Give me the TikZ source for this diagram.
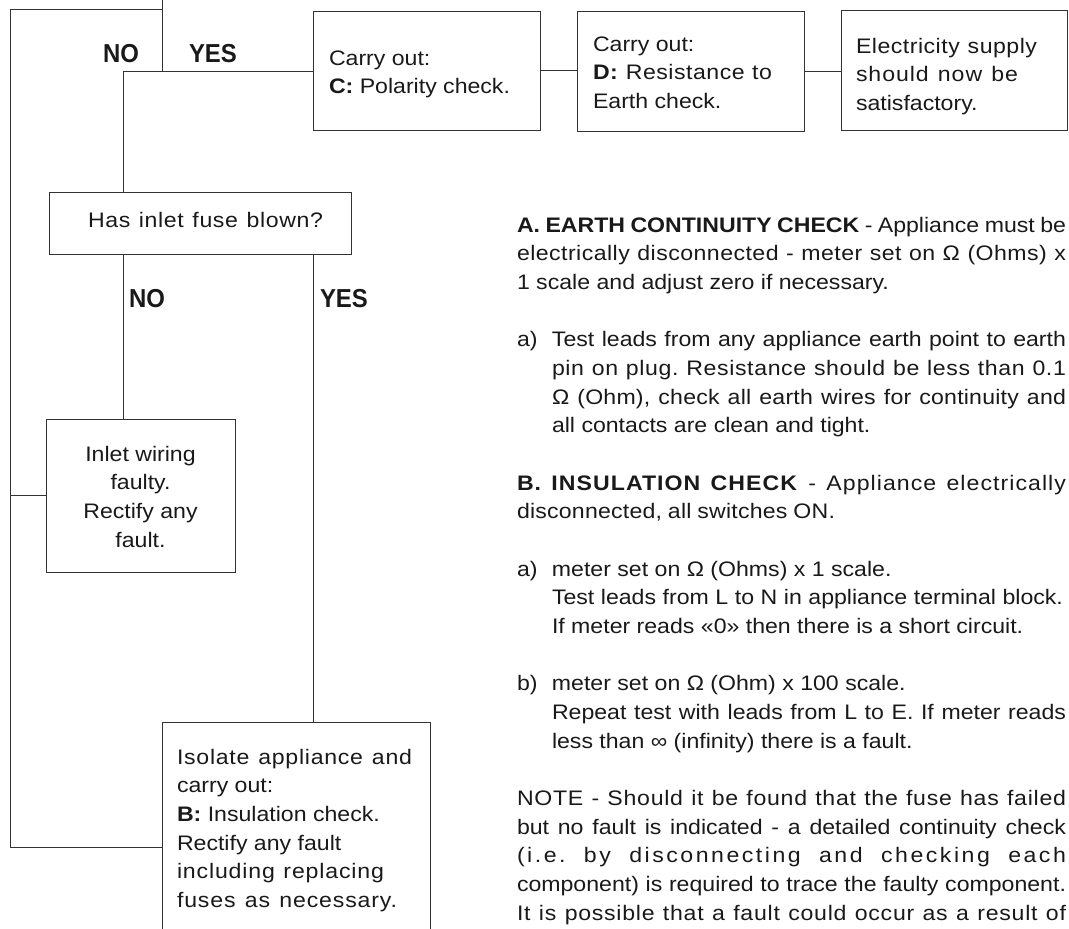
\documentclass[tikz,border=0pt]{standalone}
\usepackage{fontspec}
\setmainfont{Liberation Sans}[FakeStretch=1.1]
\newfontfamily\lblfont{Liberation Sans}[FakeStretch=0.92]
\newcommand\jline[2]{\makebox[#1][s]{#2}}
\newcommand\lsline[3]{\makebox[#1][s]{\addfontfeature{LetterSpace=#2}#3}}
\newcommand\itmlab[1]{\makebox[35pt][l]{#1}}
\frenchspacing
\tikzset{
 box/.style={draw=black!80, line width=1pt, inner sep=0pt, outer sep=0pt, rectangle},
 conn/.style={draw=black!80, line width=1pt},
 txt/.style={inner sep=0pt, outer sep=0pt, anchor=base west, text=black!90, font=\fontsize{21pt}{28.67pt}\selectfont},
 lbl/.style={inner sep=0pt, outer sep=0pt, anchor=base west, text=black!90, font=\lblfont\bfseries\fontsize{26pt}{30pt}\selectfont},
}
\begin{document}
\begin{tikzpicture}[x=1pt,y=-1pt]
\useasboundingbox (0,0) rectangle (1069,929);
\clip (0,0) rectangle (1069,929);
% boxes
\node[box, minimum width=227pt, minimum height=119pt] (cbox) at (426.5,70.5) {};
\node[box, minimum width=227pt, minimum height=120pt] (dbox) at (690.5,71) {};
\node[box, minimum width=226pt, minimum height=120pt] (ebox) at (954,70) {};
\node[box, minimum width=302pt, minimum height=62pt] (hbox) at (200,223) {};
\node[box, minimum width=189pt, minimum height=153pt] (ibox) at (140.5,495.5) {};
\node[box, minimum width=268pt, minimum height=260pt] (isobox) at (296,852) {};
% box texts
\node[txt] (ctxt) at (329,65) {\parbox[t]{210pt}{Carry out:\\\textbf{C:} Polarity check.}};
\node[txt] (dtxt) at (593,51) {\parbox[t]{210pt}{Carry out:\\\lsline{179pt}{2.4}{\textbf{D:} Resistance to}\\Earth check.}};
\node[txt] (etxt) at (856,53) {\parbox[t]{210pt}{\lsline{181pt}{2.4}{Electricity supply}\\\lsline{162pt}{4.5}{should now be}\\satisfactory.}};
\node[txt] (htxt) at (88,227) {\lsline{235pt}{3}{Has inlet fuse blown?}};
\node[txt, anchor=base] (itxt) at (140.5,461) {\parbox[t]{180pt}{\centering Inlet wiring\\faulty.\\Rectify any\\fault.}};
\node[txt] (isotxt) at (177,764) {\parbox[t]{250pt}{\lsline{235pt}{3.5}{Isolate appliance and}\\carry out:\\\textbf{B:} Insulation check.\\Rectify any fault\\\lsline{207pt}{4}{including replacing}\\\lsline{220pt}{4}{fuses as necessary.}}};
% right-hand text
\node[txt] (notes) at (517,232) {\parbox[t]{549pt}{%
\jline{549pt}{\textbf{A. EARTH CONTINUITY CHECK} - Appliance must be}\\
\lsline{549pt}{2.2}{electrically disconnected - meter set on Ω (Ohms) x}\\
1 scale and adjust zero if necessary.\\
\mbox{}\\
\itmlab{a)}\jline{514pt}{Test leads from any appliance earth point to earth}\\
\itmlab{}\lsline{514pt}{3}{pin on plug. Resistance should be less than 0.1}\\
\itmlab{}\lsline{514pt}{1}{Ω (Ohm), check all earth wires for continuity and}\\
\itmlab{}all contacts are clean and tight.\\
\mbox{}\\
\lsline{549pt}{5}{\textbf{B. INSULATION CHECK} - Appliance electrically}\\
\lsline{318pt}{1}{disconnected, all switches ON.}\\
\mbox{}\\
\itmlab{a)}meter set on Ω (Ohms) x 1 scale.\\
\itmlab{}\jline{511pt}{Test leads from L to N in appliance terminal block.}\\
\itmlab{}If meter reads «0» then there is a short circuit.\\
\mbox{}\\
\itmlab{b)}meter set on Ω (Ohm) x 100 scale.\\
\itmlab{}\jline{514pt}{Repeat test with leads from L to E. If meter reads}\\
\itmlab{}less than ∞ (infinity) there is a fault.\\
\mbox{}\\
\lsline{549pt}{3.5}{NOTE - Should it be found that the fuse has failed}\\
\jline{549pt}{but no fault is indicated - a detailed continuity check}\\
\lsline{549pt}{12}{(i.e. by disconnecting and checking each}\\
\jline{549pt}{component) is required to trace the faulty component.}\\
\lsline{549pt}{3.5}{It is possible that a fault could occur as a result of}}};
% labels
\node[lbl] (no1) at (103,62) {NO};
\node[lbl] (yes1) at (189,62) {YES};
\node[lbl] (no2) at (129,307) {NO};
\node[lbl] (yes2) at (320,307) {YES};
% connectors
\coordinate (in) at (162,-5);
\coordinate (j1) at (162,9);
\coordinate (j2) at (162,71);
\coordinate (ltop) at (10,9);
\coordinate (lbot) at (10,847);
\coordinate (k) at (123,71);
\coordinate (yx) at (313,0);
\draw[conn] (in) -- (j2);
\draw[conn] (j1) -- (ltop) -- (lbot) -- (lbot -| isobox.west);
\draw[conn] (ltop |- ibox.west) -- (ibox.west);
\draw[conn] (k) -- (k -| cbox.west);
\draw[conn] (k) -- (k |- hbox.north);
\draw[conn] (k |- hbox.south) -- (k |- ibox.north);
\draw[conn] (yx |- hbox.south) -- (yx |- isobox.north);
\draw[conn] (cbox.east) -- (cbox.east -| dbox.west);
\draw[conn] (dbox.east) -- (dbox.east -| ebox.west);
\end{tikzpicture}
\end{document}
